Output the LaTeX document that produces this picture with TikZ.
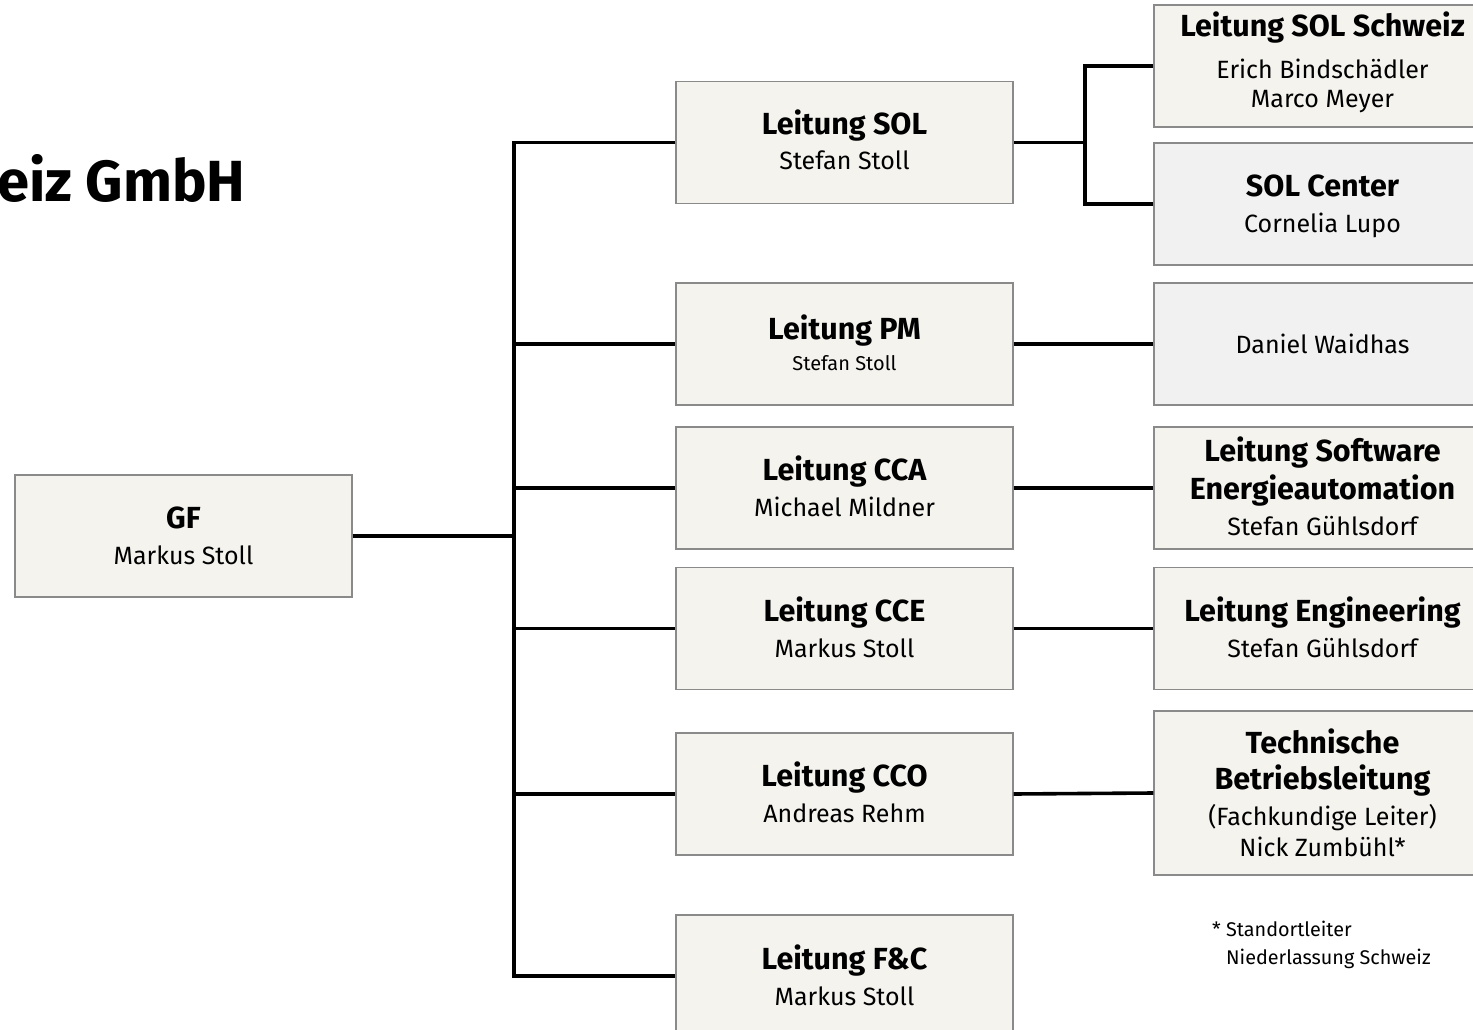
\documentclass[tikz,border=0pt]{standalone}
\usepackage{fontspec}
\setmainfont{Fira Sans}
\definecolor{beige}{HTML}{F4F3EE}
\definecolor{greyfill}{HTML}{F1F1F1}
\definecolor{boxline}{HTML}{8A8A8A}
\begin{document}
\begin{tikzpicture}[x=1pt,y=-1pt,
  orgbox/.style={draw=boxline, line width=1.3pt, fill=beige, minimum width=337pt, minimum height=122pt, inner sep=0pt},
  greybox/.style={orgbox, fill=greyfill},
  conn/.style={line width=3.6pt, line join=miter},
  hd/.style={font=\fontsize{30.5}{36}\selectfont\bfseries, anchor=base, inner sep=0pt},
  nm/.style={font=\fontsize{25}{30}\selectfont, anchor=base, inner sep=0pt},
  sm/.style={font=\fontsize{20}{24}\selectfont, anchor=base, inner sep=0pt},
  fn/.style={font=\fontsize{19.8}{24}\selectfont, anchor=base west, inner sep=0pt}]
\useasboundingbox (0,0) rectangle (1473,1030);
\clip (0,0) rectangle (1473,1030);
% title
\node[font=\fontsize{58}{66}\selectfont\bfseries, anchor=base west, inner sep=0pt] (title) at (-3,201) {eiz GmbH};
% boxes
\node[orgbox] (gf) at (183.5,536) {};
\node[orgbox] (sol) at (844.5,142.5) {};
\node[orgbox] (pm) at (844.5,344) {};
\node[orgbox] (cca) at (844.5,488) {};
\node[orgbox] (cce) at (844.5,628.5) {};
\node[orgbox] (cco) at (844.5,794) {};
\node[orgbox] (fc) at (844.5,976) {};
\node[orgbox] (solch) at (1322.5,66) {};
\node[greybox] (solc) at (1322.5,204) {};
\node[greybox] (dw) at (1322.5,344) {};
\node[orgbox] (sw) at (1322.5,488) {};
\node[orgbox] (eng) at (1322.5,628.5) {};
\node[orgbox, minimum height=164pt] (tb) at (1322.5,793) {};
% connectors
\coordinate (tr) at (514,0);
\coordinate (sp) at (1085,0);
\draw[conn] (gf.east) -- (gf.east -| tr);
\draw[conn] (sol.west) -- (sol.west -| tr) -- (fc.west -| tr) -- (fc.west);
\draw[conn] (pm.west -| tr) -- (pm.west);
\draw[conn] (cca.west -| tr) -- (cca.west);
\draw[conn] (cce.west -| tr) -- (cce.west);
\draw[conn] (cco.west -| tr) -- (cco.west);
\draw[conn] (sol.east) -- (sol.east -| sp);
\draw[conn] (solch.west) -- (solch.west -| sp) -- (solc.west -| sp) -- (solc.west);
\draw[conn] (pm.east) -- (dw.west);
\draw[conn] (cca.east) -- (sw.west);
\draw[conn] (cce.east) -- (eng.west);
\draw[conn] (cco.east) -- (tb.west);
% texts
\node[hd] (gf1) at (183.5,528.5) {GF};
\node[nm] (gf2) at (183.5,564) {Markus Stoll};
\node[hd] (sol1) at (844.5,134.5) {Leitung SOL};
\node[nm] (sol2) at (844.5,169) {Stefan Stoll};
\node[hd] (pm1) at (844.5,339.5) {Leitung PM};
\node[sm] (pm2) at (844.5,370) {Stefan Stoll};
\node[hd] (cca1) at (844.5,480.5) {Leitung CCA};
\node[nm] (cca2) at (844.5,516) {Michael Mildner};
\node[hd] (cce1) at (844.5,621.5) {Leitung CCE};
\node[nm] (cce2) at (844.5,657) {Markus Stoll};
\node[hd] (cco1) at (844.5,786.5) {Leitung CCO};
\node[nm] (cco2) at (844.5,822) {Andreas Rehm};
\node[hd] (fc1) at (844.5,969.5) {Leitung F\&C};
\node[nm] (fc2) at (844.5,1005) {Markus Stoll};
\node[hd] (solch1) at (1322.5,36.5) {Leitung SOL Schweiz};
\node[nm] (solch2) at (1322.5,79) {Erich Bindschädler};
\node[nm] (solch3) at (1322.5,108) {Marco Meyer};
\node[hd] (solc1) at (1322.5,196.5) {SOL Center};
\node[nm] (solc2) at (1322.5,232) {Cornelia Lupo};
\node[nm] (dw1) at (1322.5,353) {Daniel Waidhas};
\node[hd] (sw1) at (1322.5,461.5) {Leitung Software};
\node[hd] (sw2) at (1322.5,499.5) {Energieautomation};
\node[nm] (sw3) at (1322.5,535) {Stefan Gühlsdorf};
\node[hd] (eng1) at (1322.5,621.5) {Leitung Engineering};
\node[nm] (eng2) at (1322.5,657) {Stefan Gühlsdorf};
\node[hd] (tb1) at (1322.5,753.5) {Technische};
\node[hd] (tb2) at (1322.5,789.5) {Betriebsleitung};
\node[nm] (tb3) at (1322.5,825) {(Fachkundige Leiter)};
\node[nm] (tb4) at (1322.5,856) {Nick Zumbühl*};
\node[fn] (fn1) at (1212,936) {* Standortleiter};
\node[fn] (fn2) at (1226,964) {Niederlassung Schweiz};
\end{tikzpicture}
\end{document}
